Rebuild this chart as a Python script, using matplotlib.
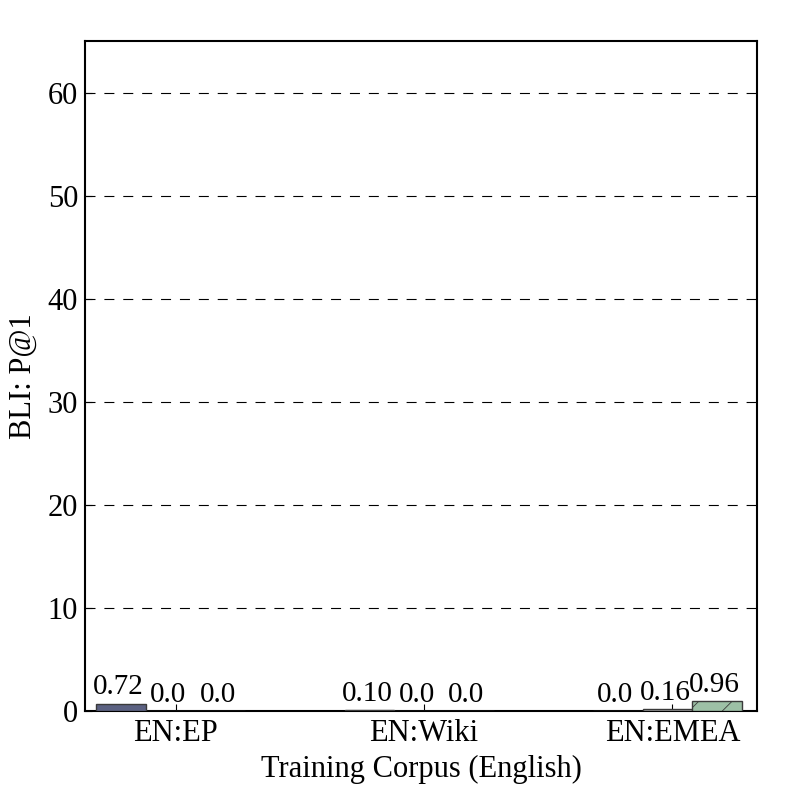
import numpy as np
import matplotlib
matplotlib.use("Agg")
import matplotlib.pyplot as plt

plt.rcParams['font.family'] = ['Liberation Serif', 'DejaVu Serif']
plt.rcParams['hatch.color'] = '#555555'
plt.rcParams['hatch.linewidth'] = 0.6

# data
corpora = ['EN:EP', 'EN:Wiki', 'EN:EMEA']
series1 = [0.72, 0.10, 0.0]
series2 = [0.0, 0.0, 0.16]
series3 = [0.0, 0.0, 0.96]
labels1 = ['0.72', '0.10', '0.0']
labels2 = ['0.0', '0.0', '0.16']
labels3 = ['0.0', '0.0', '0.96']

colors = ['#5b6182', '#a9a9a9', '#9dc0a6']
hatches = ['', '', '/']

ind = np.arange(len(corpora))
w = 0.2

fig = plt.figure(figsize=(7.97, 7.97), dpi=100)
ax = fig.add_axes([0.1066, 0.1079, 0.8432, 0.8407])

for k, (vals, labs) in enumerate([(series1, labels1), (series2, labels2), (series3, labels3)]):
    xs = ind - 0.32 + k * w
    ax.bar(xs, vals, w, align='edge', color=colors[k], edgecolor='#3a3a3a',
           linewidth=1.0, hatch=hatches[k], zorder=3)
    for x, v, t in zip(xs, vals, labs):
        ax.text(x + w / 2 - 0.01, v + 0.3, t, ha='center', va='bottom', fontsize=21)

ax.set_xlim(-0.366, 2.341)
ax.set_ylim(0, 65)
ax.set_yticks([0, 10, 20, 30, 40, 50, 60])
ax.set_xticks(ind)
ax.set_xticklabels(corpora)
ax.tick_params(axis='both', labelsize=22, direction='in', length=5, width=0.8,
               top=False, right=False)
ax.tick_params(axis='y', pad=5)
ax.tick_params(axis='x', pad=6)

ax.yaxis.grid(True, color='black', linestyle=(0, (9, 8)), linewidth=0.8, zorder=0)
ax.set_axisbelow(True)
for s in ax.spines.values():
    s.set_linewidth(1.5)

ax.set_xlabel('Training Corpus (English)', fontsize=22, labelpad=5)
ax.set_ylabel('BLI: P@1', fontsize=22, labelpad=7)

fig.savefig('out.png', dpi=100)
